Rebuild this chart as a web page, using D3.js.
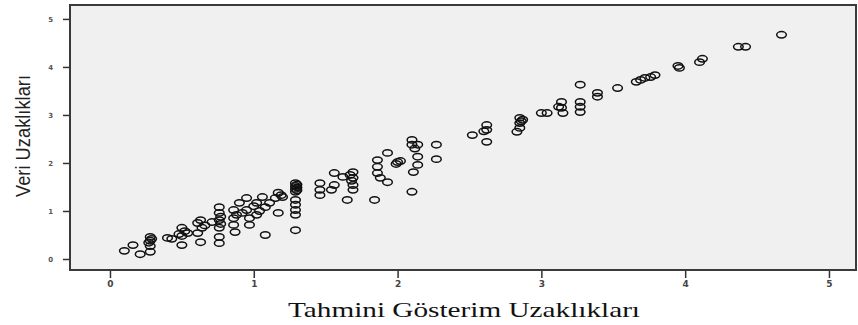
<!DOCTYPE html>
<html>
<head>
<meta charset="utf-8">
<script src="https://cdn.jsdelivr.net/npm/d3@7"></script>
<style>
  body { margin: 0; background: #fff; }
  svg { display: block; }
</style>
</head>
<body>
<figure id="scatter" style="margin:0"></figure>
<script>
// Tahmini Gösterim Uzaklıkları (x) vs Veri Uzaklıkları (y)
const predicted = [
  0.10, 0.16, 0.21, 0.28, 0.28, 0.28, 0.28, 0.29, 0.27,
  0.40, 0.43, 0.50, 0.50, 0.50, 0.54, 0.52, 0.48,
  0.61, 0.61, 0.63, 0.63, 0.64, 0.66,
  0.71, 0.76, 0.76, 0.76, 0.76, 0.76, 0.76, 0.77, 0.77,
  0.86, 0.86, 0.86, 0.87, 0.90, 0.92, 0.88,
  0.95, 0.95, 0.97, 0.97, 1.02, 1.02, 1.06, 1.08, 1.08, 1.11, 1.15, 1.00, 1.04,
  1.17, 1.17, 1.20, 1.19,
  1.29, 1.29, 1.29, 1.29, 1.29, 1.29, 1.29, 1.29, 1.29, 1.30, 1.30, 1.30,
  1.46, 1.46, 1.46, 1.56, 1.56, 1.54, 1.65, 1.62, 1.69, 1.69, 1.69, 1.69, 1.67, 1.68,
  1.86, 1.86, 1.86, 1.88, 1.93, 1.93, 1.84, 2.00, 2.02, 1.99,
  2.10, 2.10, 2.14, 2.14, 2.14, 2.11, 2.10, 2.27, 2.27, 2.12,
  2.52, 2.62, 2.62, 2.62, 2.60,
  2.85, 2.85, 2.85, 2.83, 2.87, 2.86,
  3.00, 3.04,
  3.14, 3.14, 3.15, 3.12, 3.27, 3.27, 3.27, 3.27,
  3.39, 3.39,
  3.53,
  3.66, 3.69, 3.72, 3.76, 3.79,
  3.96, 3.95, 4.10, 4.12,
  4.37, 4.42, 4.67
];
const observed = [
  0.17, 0.29, 0.10, 0.27, 0.38, 0.46, 0.15, 0.42, 0.34,
  0.44, 0.42, 0.65, 0.48, 0.29, 0.54, 0.58, 0.52,
  0.75, 0.54, 0.81, 0.35, 0.65, 0.70,
  0.77, 1.08, 0.96, 0.81, 0.65, 0.46, 0.33, 0.88, 0.73,
  1.02, 0.85, 0.71, 0.56, 1.17, 0.96, 0.92,
  1.27, 1.02, 0.85, 0.71, 1.17, 0.92, 1.29, 1.08, 0.50, 1.17, 1.27, 1.10, 1.00,
  1.38, 0.96, 1.29, 1.33,
  1.58, 1.52, 1.46, 1.40, 1.23, 1.13, 1.02, 0.92, 0.60, 1.55, 1.49, 1.43,
  1.58, 1.44, 1.33, 1.79, 1.54, 1.44, 1.23, 1.71, 1.81, 1.69, 1.54, 1.44, 1.75, 1.63,
  2.06, 1.92, 1.79, 1.69, 2.21, 1.60, 1.23, 2.02, 2.04, 1.98,
  2.38, 2.48, 2.38, 2.13, 1.96, 1.81, 1.40, 2.38, 2.08, 2.30,
  2.58, 2.69, 2.79, 2.44, 2.66,
  2.83, 2.94, 2.73, 2.65, 2.90, 2.87,
  3.04, 3.04,
  3.27, 3.15, 3.04, 3.17, 3.63, 3.27, 3.17, 3.06,
  3.46, 3.38,
  3.56,
  3.69, 3.73, 3.77, 3.79, 3.83,
  3.98, 4.02, 4.10, 4.17,
  4.42, 4.42, 4.67
];
const xTicks = [0, 1, 2, 3, 4, 5];
const yTicks = [0, 1, 2, 3, 4, 5];
const xTitle = "Tahmini Gösterim Uzaklıkları";
const yTitle = "Veri Uzaklıkları";

const W = 858, H = 325;
const frame = { left: 70, top: 5, right: 856, bottom: 270 };

const svg = d3.select("figure#scatter")
  .append("svg")
  .attr("width", W)
  .attr("height", H);

const x = d3.scaleLinear()
  .domain([-0.278, 5.188])
  .range([frame.left, frame.right]);

const y = d3.scaleLinear()
  .domain([-0.229, 5.29])
  .range([frame.bottom, frame.top]);

// plot background
svg.append("rect")
  .attr("x", frame.left)
  .attr("y", frame.top)
  .attr("width", frame.right - frame.left)
  .attr("height", frame.bottom - frame.top)
  .attr("fill", "#f0f0f0");

// x axis
const xAxis = svg.append("g")
  .attr("transform", "translate(0," + frame.bottom + ")")
  .call(d3.axisBottom(x).tickValues(xTicks).tickSize(8).tickPadding(3).tickFormat(d3.format("d")));
xAxis.select(".domain").remove();
xAxis.selectAll("line").attr("stroke", "#333").attr("stroke-width", 1.5);
xAxis.selectAll("text")
  .attr("font-family", "DejaVu Sans, sans-serif")
  .attr("font-size", 9)
  .attr("font-weight", "bold")
  .attr("fill", "#444");

// y axis
const yAxis = svg.append("g")
  .attr("transform", "translate(" + frame.left + ",0)")
  .call(d3.axisLeft(y).tickValues(yTicks).tickSize(7).tickPadding(10).tickFormat(d3.format("d")));
yAxis.select(".domain").remove();
yAxis.selectAll("line").attr("stroke", "#333").attr("stroke-width", 1.5);
yAxis.selectAll("text")
  .attr("font-family", "DejaVu Sans, sans-serif")
  .attr("font-size", 7)
  .attr("font-weight", "bold")
  .attr("fill", "#555");

// points
svg.append("g")
  .selectAll("ellipse")
  .data(predicted.map((p, i) => ({ p, o: observed[i] })))
  .enter()
  .append("ellipse")
  .attr("cx", d => x(d.p))
  .attr("cy", d => y(d.o))
  .attr("rx", 4.8)
  .attr("ry", 3.2)
  .attr("fill", "none")
  .attr("stroke", "#111")
  .attr("stroke-width", 1.5);

// frame border
svg.append("rect")
  .attr("x", frame.left)
  .attr("y", frame.top)
  .attr("width", frame.right - frame.left)
  .attr("height", frame.bottom - frame.top)
  .attr("fill", "none")
  .attr("stroke", "#3a3a3a")
  .attr("stroke-width", 2);

// titles
svg.append("text")
  .attr("x", 464)
  .attr("y", 317)
  .attr("text-anchor", "middle")
  .attr("font-family", "Liberation Serif, DejaVu Serif, serif")
  .attr("font-size", 22)
  .attr("textLength", 352)
  .attr("lengthAdjust", "spacingAndGlyphs")
  .attr("fill", "#111")
  .text(xTitle);

svg.append("text")
  .attr("transform", "translate(30,136)rotate(-90)")
  .attr("text-anchor", "middle")
  .attr("font-family", "Liberation Sans Narrow, Liberation Sans, sans-serif")
  .attr("font-size", 20)
  .attr("textLength", 122)
  .attr("lengthAdjust", "spacingAndGlyphs")
  .attr("fill", "#222")
  .text(yTitle);
</script>
</body>
</html>
